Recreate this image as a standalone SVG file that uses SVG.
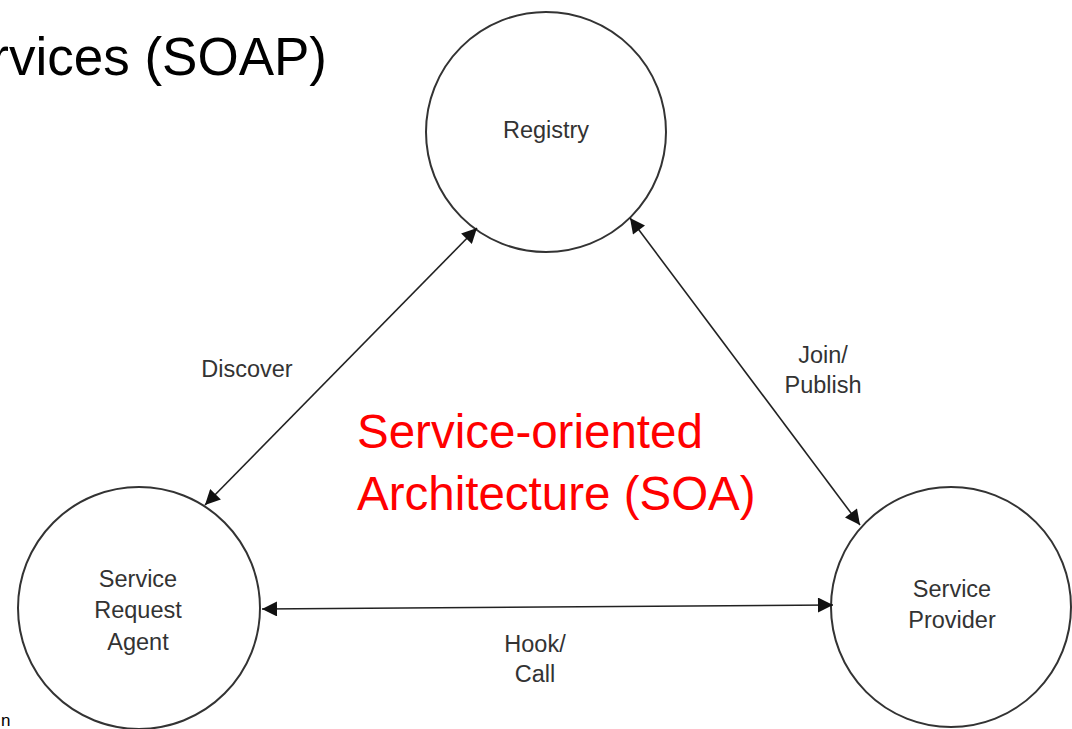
<svg xmlns="http://www.w3.org/2000/svg" width="1072" height="729" viewBox="0 0 1072 729">
<defs>
<style>
.node circle{fill:#fff;stroke:#333;stroke-width:2}
.lbl{font-family:"Liberation Sans",Arial,sans-serif;font-size:23.5px;fill:#333;text-anchor:middle}
.conn line{stroke:#222;stroke-width:1.6;fill:none}
.red{font-family:"Liberation Sans",Arial,sans-serif;font-size:47.5px;fill:#ff0000}
</style>
<marker id="ah" viewBox="0 0 10 10" refX="10" refY="5" markerWidth="22" markerHeight="15" markerUnits="userSpaceOnUse" orient="auto-start-reverse">
<path d="M0,0 L10,5 L0,10 z" fill="#111"/>
</marker>
</defs>
<rect width="1072" height="729" fill="#fff"/>
<text x="327" y="75" text-anchor="end" font-family="'Liberation Sans',Arial,sans-serif" font-size="53" fill="#000">rvices (SOAP)</text>
<text x="1" y="726" font-family="'Liberation Sans',Arial,sans-serif" font-size="17" fill="#000">n</text>
<g id="registry" class="node">
<circle cx="546" cy="132" r="120"/>
<text class="lbl" x="546" y="138">Registry</text>
</g>
<g id="service-request-agent" class="node">
<circle cx="139" cy="608" r="121"/>
<text class="lbl" x="138" y="587">Service</text>
<text class="lbl" x="138" y="618">Request</text>
<text class="lbl" x="138" y="650">Agent</text>
</g>
<g id="service-provider" class="node">
<circle cx="951" cy="607" r="120"/>
<text class="lbl" x="952" y="597">Service</text>
<text class="lbl" x="952" y="628">Provider</text>
</g>
<g id="connectors" class="conn">
<line x1="205" y1="505" x2="477" y2="228" marker-start="url(#ah)" marker-end="url(#ah)"/>
<line x1="630" y1="218" x2="860" y2="525" marker-start="url(#ah)" marker-end="url(#ah)"/>
<line x1="262" y1="609" x2="833" y2="605" marker-start="url(#ah)" marker-end="url(#ah)"/>
<text class="lbl" x="247" y="377">Discover</text>
<text class="lbl" x="823" y="363">Join/</text>
<text class="lbl" x="823" y="393">Publish</text>
<text class="lbl" x="535" y="652">Hook/</text>
<text class="lbl" x="535" y="682">Call</text>
</g>
<g id="title-soa">
<text class="red" x="357" y="448">Service-oriented</text>
<text class="red" x="357" y="510">Architecture (SOA)</text>
</g>
</svg>
